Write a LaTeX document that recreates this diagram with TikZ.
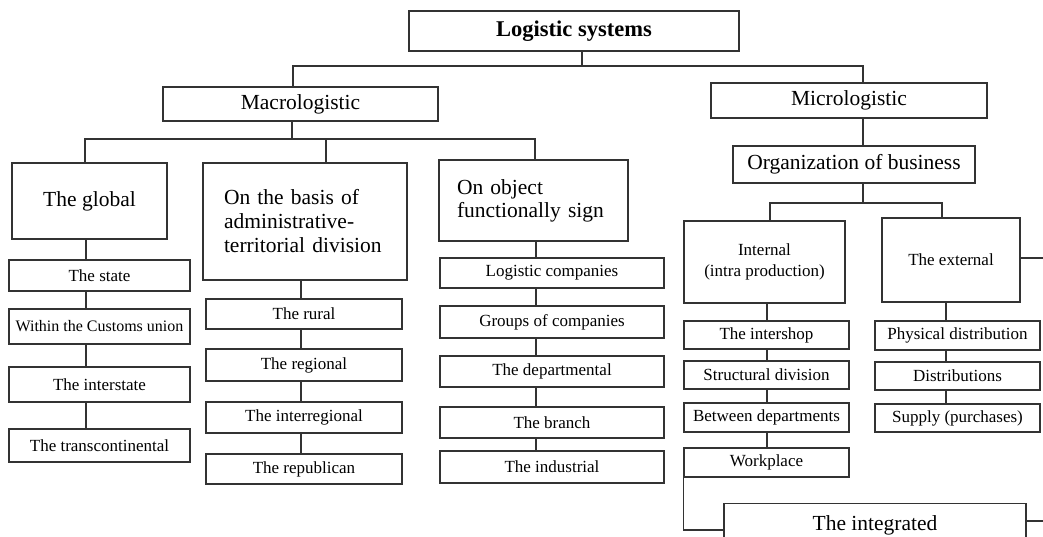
\documentclass[tikz,border=0pt]{standalone}
\usepackage{fontspec}
\setmainfont{Liberation Serif}
\usepackage{tikz}
\usetikzlibrary{positioning,calc}

\begin{document}
\begin{tikzpicture}[x=1pt,y=-1pt,
    box/.style={rectangle,draw=black!80,line width=1.1pt,inner sep=0pt,font={\fontsize{21.5}{24}\selectfont}},
    cell/.style={box,font={\fontsize{17}{20}\selectfont}},
    link/.style={draw=black!80,line width=1.1pt}]

\clip (0,0) rectangle (1043,537);

% Niveaux superieurs
\node[box,minimum width=330,minimum height=40,font={\fontsize{22.5}{24}\selectfont\bfseries}] (ls) at (574,31) {Logistic systems};
\node[box,minimum width=275,minimum height=34] (macro) at (300.5,104) {Macrologistic};
\node[box,minimum width=276,minimum height=35] (micro) at (849,100.5) {Micrologistic};
\node[box,minimum width=242,minimum height=37] (org) at (854,164.5) {Organization of business};

\node[box,minimum width=155,minimum height=76] (glob) at (89.5,201) {The global};
\node[box,text width=162,inner xsep=21,minimum height=117,align=left] (admin) at (305,221.5)
    {On the basis of\\administrative-\\territorial division};
\node[box,text width=153,inner xsep=18,minimum height=81,align=left,font={\fontsize{21.5}{23}\selectfont}] (obj) at (533.5,200.5)
    {On object\\functionally sign};
\node[cell,minimum width=161,minimum height=82,align=center,font={\fontsize{17}{21}\selectfont}] (int) at (764.5,262)
    {Internal\\(intra production)};
\node[cell,minimum width=138,minimum height=84] (ext) at (951,260) {The external};
\node[box,anchor=north,minimum width=302,text height=15,text depth=30,inner ysep=12] (integ) at (875,503) {The integrated};

% Points de jonction
\coordinate (j0) at (582,66);
\coordinate (jmacro) at (293,66);
\coordinate (jmicro) at (863,66);
\coordinate (jm) at (292,139);
\coordinate (b1) at (85,139);
\coordinate (b2) at (326,139);
\coordinate (b3) at (535,139);
\coordinate (jo) at (863,203);
\coordinate (o1) at (770,203);
\coordinate (o2) at (942,203);
\coordinate (t1) at (86,0);
\coordinate (t2) at (301,0);
\coordinate (t3) at (536,0);
\coordinate (t4) at (767,0);
\coordinate (t5) at (946,0);
\coordinate (jw) at (724,530);
\coordinate (outA) at (1043,258);
\coordinate (outB) at (1043,521);

% Colonnes
\foreach \n/\y/\h/\t in {st/275.5/31/The state, is/384.5/35/The interstate, tc/445.5/33/The transcontinental}
    \node[cell,minimum width=181,minimum height=\h] (\n) at (99.5,\y) {\t};
\node[cell,minimum width=181,minimum height=35,font={\fontsize{16}{18}\selectfont}] (cu) at (99.5,326.5) {Within the Customs union};

\foreach \n/\y/\h/\t in {ru/314/30/The rural, re/365/32/The regional, ir/417.5/31/The interregional, rp/469/30/The republican}
    \node[cell,minimum width=196,minimum height=\h] (\n) at (304,\y) {\t};

\foreach \n/\y/\h/\t in {lc/273/30/Logistic companies, gc/322/32/Groups of companies, de/371.5/31/The departmental, br/422.5/31/The branch, in/467/32/The industrial}
    \node[cell,minimum width=224,minimum height=\h] (\n) at (552,\y) {\t};

\foreach \n/\y/\h/\t in {sh/335/28/The intershop, sd/375/28/Structural division, bd/417.5/29/Between departments, wp/462.5/29/Workplace}
    \node[cell,minimum width=165,minimum height=\h] (\n) at (766.5,\y) {\t};

\foreach \n/\y/\h/\t in {pd/335.5/29/Physical distribution, di/376/28/Distributions, sp/418/28/Supply (purchases)}
    \node[cell,minimum width=165,minimum height=\h] (\n) at (957.5,\y) {\t};

% Liaisons
\draw[link] (ls.south -| j0) -- (j0);
\draw[link] (macro.north -| jmacro) -- (jmacro) -- (jmicro) -- (micro.north -| jmicro);
\draw[link] (macro.south -| jm) -- (jm);
\draw[link] (glob.north -| b1) -- (b1) -- (b3) -- (obj.north -| b3);
\draw[link] (b2) -- (admin.north -| b2);
\draw[link] (micro.south -| jmicro) -- (org.north -| jmicro);
\draw[link] (org.south -| jo) -- (jo);
\draw[link] (int.north -| o1) -- (o1) -- (o2) -- (ext.north -| o2);

\foreach \a/\b in {glob/st, st/cu, cu/is, is/tc}
    \draw[link] (\a.south -| t1) -- (\b.north -| t1);
\foreach \a/\b in {admin/ru, ru/re, re/ir, ir/rp}
    \draw[link] (\a.south -| t2) -- (\b.north -| t2);
\foreach \a/\b in {obj/lc, lc/gc, gc/de, de/br, br/in}
    \draw[link] (\a.south -| t3) -- (\b.north -| t3);
\foreach \a/\b in {int/sh, sh/sd, sd/bd, bd/wp}
    \draw[link] (\a.south -| t4) -- (\b.north -| t4);
\foreach \a/\b in {ext/pd, pd/di, di/sp}
    \draw[link] (\a.south -| t5) -- (\b.north -| t5);

\draw[link] (wp.south west) |- (integ.west |- jw);
\draw[link] (outA -| ext.east) -- (outA);
\draw[link] (outB -| integ.east) -- (outB);

\end{tikzpicture}
\end{document}
